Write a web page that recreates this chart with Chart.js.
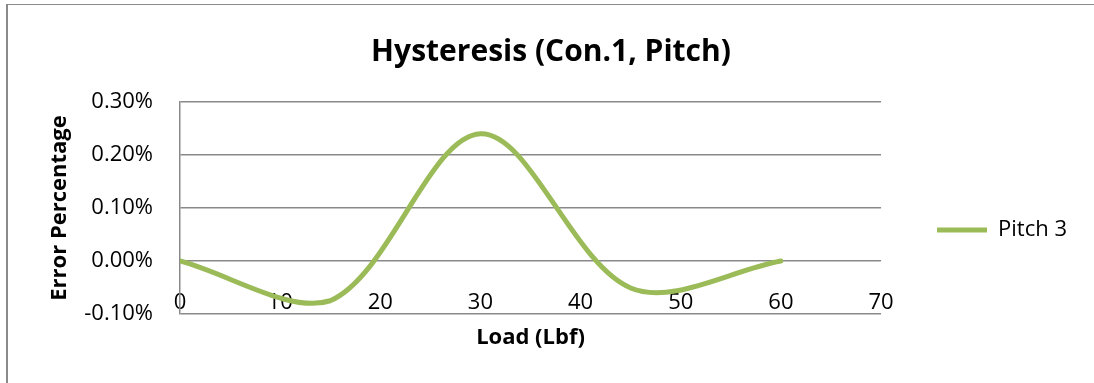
<!DOCTYPE html>
<html>
<head>
<meta charset="utf-8">
<title>Hysteresis (Con.1, Pitch)</title>
<script src="https://cdn.jsdelivr.net/npm/chart.js@4.4.1/dist/chart.umd.min.js"></script>
<style>
  html, body { margin: 0; padding: 0; background: #fff; overflow: hidden; }
  #frame {
    position: absolute; left: 6px; top: 4px; width: 1086px; height: 520px;
    border-left: 2px solid #8a8a8a; border-top: 1.5px solid #8a8a8a; border-right: 1px solid #d4d4d4;
  }
  #chart { position: absolute; left: 0; top: 0; }
</style>
</head>
<body>
<div id="frame"></div>
<canvas id="chart" width="1094" height="460"></canvas>
<script>
// carga (lbf) y error de histeresis (%)
const loads = [0, 15, 30, 45, 60];
const pitch3 = [0, -0.075, 0.24, -0.051, 0];
const xTicks = [0, 10, 20, 30, 40, 50, 60, 70];
const yTicks = [-0.1, 0, 0.1, 0.2, 0.3];

const FONT = "'Open Sans', sans-serif";
const GRID = "#898989";

const ctx = document.getElementById("chart").getContext("2d");

new Chart(ctx, {
  type: "line",
  data: {
    datasets: [
      {
        label: "Pitch 3",
        data: loads.map((x, i) => ({ x: x, y: pitch3[i] })),
        borderColor: "#9BBB59",
        backgroundColor: "#9BBB59",
        borderWidth: 5,
        borderCapStyle: "round",
        borderJoinStyle: "round",
        pointRadius: 0,
        pointStyle: "line",
        tension: 0.33,
        fill: false,
      },
    ],
  },
  options: {
    responsive: false,
    animation: false,
    devicePixelRatio: 1,
    layout: { padding: { left: 25, right: 17, top: 0, bottom: 0 } },
    plugins: {
      title: {
        display: true,
        text: "Hysteresis (Con.1, Pitch)",
        color: "#000",
        font: { family: FONT, size: 30, weight: "bold" },
        padding: { top: 34, bottom: 32 },
      },
      legend: {
        position: "right",
        labels: {
          usePointStyle: true,
          pointStyleWidth: 50,
          padding: 56,
          color: "#000",
          font: { family: FONT, size: 22 },
        },
      },
      tooltip: { enabled: false },
    },
    scales: {
      x: {
        type: "linear",
        position: { y: 0 },
        min: 0,
        max: 70,
        afterBuildTicks: (scale) => { scale.ticks = xTicks.map((v) => ({ value: v })); },
        grid: { display: false },
        border: { display: false },
        ticks: { color: "#000", padding: 21, font: { family: FONT, size: 22 } },
      },
      x2: {
        type: "linear",
        position: "bottom",
        afterFit: (scale) => { scale.height = 146; },
        grid: { display: false },
        border: { display: false },
        ticks: { display: false },
        title: {
          display: true,
          text: "Load (Lbf)",
          color: "#000",
          font: { family: FONT, size: 22, weight: "bold" },
          padding: { top: 0, bottom: 109 },
        },
      },
      y: {
        min: -0.1,
        max: 0.3,
        afterBuildTicks: (scale) => { scale.ticks = yTicks.map((v) => ({ value: v })); },
        afterFit: (scale) => { scale.width = 155; },
        grid: { color: GRID, lineWidth: 1.5, drawTicks: false },
        border: { display: true, color: GRID, width: 1.5 },
        ticks: {
          color: "#000",
          padding: 27,
          font: { family: FONT, size: 22 },
          callback: (v) => v.toFixed(2) + "%",
        },
        title: {
          display: true,
          text: "Error Percentage",
          color: "#000",
          font: { family: FONT, size: 22, weight: "bold" },
          padding: { top: 22, bottom: 0 },
        },
      },
    },
  },
});
</script>
</body>
</html>
